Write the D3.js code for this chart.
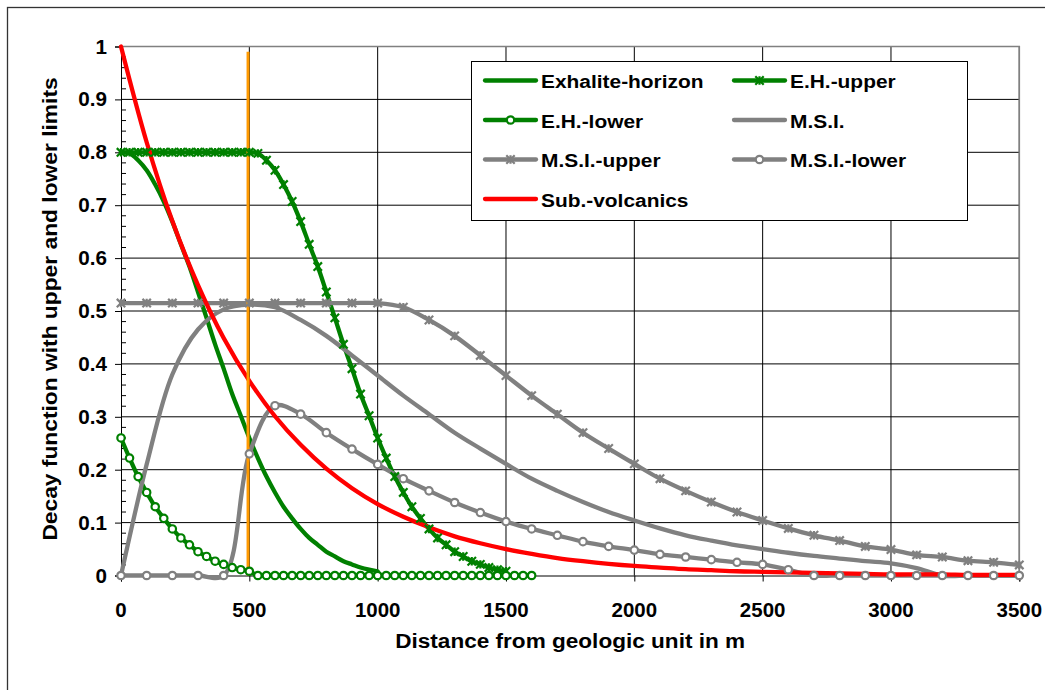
<!DOCTYPE html>
<html>
<head>
<meta charset="utf-8">
<script src="https://cdn.jsdelivr.net/npm/d3@7"></script>
<style>
  body { margin: 0; background: #fff; }
  svg { display: block; }
  text { font-family: "Liberation Sans", Arial, sans-serif; font-weight: bold; fill: #000; }
</style>
</head>
<body>
<svg id="chart" width="1045" height="690"></svg>
<script>
// Distances (m) for the finely sampled exhalite-horizon series
const distFine = [0, 33.3, 66.7, 100, 133.3, 166.7, 200, 233.3, 266.7, 300, 333.3, 366.7,
  400, 433.3, 466.7, 500, 533.3, 566.7, 600, 633.3, 666.7, 700, 733.3, 766.7, 800, 833.3,
  866.7, 900, 933.3, 966.7, 1000, 1033.3, 1066.7, 1100, 1133.3, 1166.7, 1200, 1233.3,
  1266.7, 1300, 1333.3, 1366.7, 1400, 1433.3, 1466.7, 1500, 1533.3, 1566.7, 1600];

// Distances (m) for the 100 m sampled series
const distCoarse = [0, 100, 200, 300, 400, 500, 600, 700, 800, 900, 1000, 1100, 1200, 1300,
  1400, 1500, 1600, 1700, 1800, 1900, 2000, 2100, 2200, 2300, 2400, 2500, 2600, 2700, 2800,
  2900, 3000, 3100, 3200, 3300, 3400, 3500];

const exhaliteHorizon = [0.800, 0.798, 0.785, 0.766, 0.739, 0.707, 0.669, 0.626, 0.584, 0.536,
  0.487, 0.437, 0.391, 0.343, 0.302, 0.260, 0.222, 0.187, 0.157, 0.130, 0.108, 0.088, 0.071,
  0.058, 0.045, 0.036, 0.027, 0.021, 0.015, 0.011, 0.008];

const ehUpper = [0.800, 0.800, 0.800, 0.800, 0.800, 0.800, 0.800, 0.800, 0.800, 0.800, 0.800,
  0.800, 0.800, 0.800, 0.800, 0.800, 0.798, 0.785, 0.766, 0.739, 0.707, 0.669, 0.626, 0.584,
  0.536, 0.487, 0.437, 0.391, 0.343, 0.302, 0.260, 0.222, 0.187, 0.157, 0.130, 0.108, 0.088,
  0.071, 0.058, 0.045, 0.036, 0.027, 0.021, 0.015, 0.011, 0.008];

const ehLower = [0.260, 0.222, 0.187, 0.157, 0.130, 0.108, 0.088, 0.071, 0.058, 0.045, 0.036,
  0.027, 0.021, 0.015, 0.011, 0.008, 0, 0, 0, 0, 0, 0, 0, 0, 0, 0, 0, 0, 0, 0, 0, 0, 0, 0, 0,
  0, 0, 0, 0, 0, 0, 0, 0, 0, 0, 0, 0, 0, 0];

const msi = [0, 0.210, 0.380, 0.465, 0.503, 0.512, 0.507, 0.483, 0.453, 0.416, 0.378, 0.340,
  0.305, 0.270, 0.240, 0.211, 0.183, 0.160, 0.139, 0.120, 0.104, 0.089, 0.076, 0.066, 0.057,
  0.050, 0.043, 0.037, 0.032, 0.027, 0.023, 0.014, 0, 0, 0, 0];

const msiUpper = [0.515, 0.515, 0.515, 0.515, 0.515, 0.515, 0.515, 0.515, 0.515, 0.515, 0.515,
  0.507, 0.483, 0.453, 0.416, 0.378, 0.340, 0.305, 0.270, 0.240, 0.211, 0.183, 0.160, 0.139,
  0.120, 0.104, 0.089, 0.076, 0.066, 0.055, 0.049, 0.039, 0.035, 0.028, 0.025, 0.020];

const msiLower = [0, 0, 0, 0, 0, 0.230, 0.321, 0.305, 0.270, 0.239, 0.210, 0.183, 0.160, 0.138,
  0.119, 0.102, 0.088, 0.076, 0.064, 0.055, 0.048, 0.040, 0.035, 0.030, 0.025, 0.021, 0.011,
  0, 0, 0, 0, 0, 0, 0, 0, 0];

const subVolcanics = [1.000, 0.819, 0.670, 0.549, 0.449, 0.368, 0.301, 0.247, 0.202, 0.165,
  0.135, 0.111, 0.091, 0.074, 0.061, 0.050, 0.041, 0.033, 0.027, 0.022, 0.018, 0.015, 0.012,
  0.010, 0.008, 0.007, 0.006, 0.005, 0.004, 0.003, 0.002, 0.002, 0.002, 0.001, 0.001, 0.001];

const xTicks = [0, 500, 1000, 1500, 2000, 2500, 3000, 3500];
const yTicks = [0, 0.1, 0.2, 0.3, 0.4, 0.5, 0.6, 0.7, 0.8, 0.9, 1];

// Reference distance marked by the vertical line
const cutoffDistance = 495;
const cutoffTop = 0.99;

const GREEN = "#008000", GRAY = "#808080", RED = "#FF0000", ORANGE = "#FF9A00";

const series = [
  { name: "Exhalite-horizon", xs: distFine,   ys: exhaliteHorizon, color: GREEN, marker: null },
  { name: "E.H.-upper",       xs: distFine,   ys: ehUpper,         color: GREEN, marker: "star" },
  { name: "E.H.-lower",       xs: distFine,   ys: ehLower,         color: GREEN, marker: "circle" },
  { name: "M.S.I.",           xs: distCoarse, ys: msi,             color: GRAY,  marker: null },
  { name: "M.S.I.-upper",     xs: distCoarse, ys: msiUpper,        color: GRAY,  marker: "star" },
  { name: "M.S.I.-lower",     xs: distCoarse, ys: msiLower,        color: GRAY,  marker: "circle" },
  { name: "Sub.-volcanics",   xs: distCoarse, ys: subVolcanics,    color: RED,   marker: null }
];
series.forEach(s => { s.points = s.ys.map((v, i) => [s.xs[i], v]); });

const svg = d3.select("#chart");
svg.append("rect").attr("width", 1045).attr("height", 690).attr("fill", "#fff");

// Chart frame
svg.append("rect")
  .attr("x", 7.5).attr("y", 7.5).attr("width", 1200).attr("height", 900)
  .attr("fill", "none").attr("stroke", "#333").attr("stroke-width", 1.3);

const x = d3.scaleLinear().domain([0, 3500]).range([121, 1019.3]);
const y = d3.scaleLinear().domain([0, 1]).range([575.5, 46.5]);

// Grid
const grid = svg.append("g").attr("stroke", "#000").attr("stroke-width", 1);
grid.selectAll("line.h").data(yTicks.filter(d => d > 0)).join("line")
  .attr("x1", x(0)).attr("x2", x(3500)).attr("y1", d => y(d)).attr("y2", d => y(d));
grid.selectAll("line.v").data(xTicks.filter(d => d > 0)).join("line")
  .attr("x1", d => x(d)).attr("x2", d => x(d)).attr("y1", y(0)).attr("y2", y(1));

// Plot area border (top and right)
svg.append("path")
  .attr("d", `M${x(0)},${y(1)}H${x(3500)}V${y(0)}`)
  .attr("fill", "none").attr("stroke", GRAY).attr("stroke-width", 1.6);

// Axes
const yAxis = d3.axisLeft(y).tickValues(yTicks).tickSize(6).tickFormat(() => "");
const gy = svg.append("g").attr("transform", `translate(${x(0)},0)`).call(yAxis);
gy.select(".domain").attr("stroke", "#000");
gy.selectAll(".tick line").attr("stroke", "#000");
const minor = d3.range(0, 51).map(i => i / 50).filter(v => Math.round(v * 50) % 5 !== 0);
gy.selectAll("line.minor").data(minor).join("line")
  .attr("class", "minor").attr("stroke", "#000")
  .attr("x1", 0).attr("x2", 5).attr("y1", d => y(d)).attr("y2", d => y(d));

const xAxis = d3.axisBottom(x).tickValues(xTicks).tickSize(6).tickFormat(() => "");
const gx = svg.append("g").attr("transform", `translate(0,${y(0)})`).call(xAxis);
gx.select(".domain").attr("stroke", "#000");
gx.selectAll(".tick line").attr("stroke", "#000");

// Text helper with slight horizontal stretch
function label(parent, str, px, py, size, anchor, sx, rot) {
  return parent.append("text")
    .attr("transform", `translate(${px},${py})${rot ? ` rotate(${rot})` : ""} scale(${sx},1)`)
    .attr("text-anchor", anchor)
    .style("font-size", size + "px")
    .text(str);
}

yTicks.forEach(v => label(svg, String(+v.toFixed(1)), 107, y(v) + 7, 19.5, "end", 1.06));
xTicks.forEach(v => label(svg, String(v), x(v), 617, 19.5, "middle", 1.05));
label(svg, "Distance from geologic unit in m", (x(0) + x(3500)) / 2, 648, 21, "middle", 1.075);
label(svg, "Decay function with upper and lower limits", 57, 309, 21, "middle", 1.085, -90);

// Series lines (smoothed)
const line = d3.line().x(d => x(d[0])).y(d => y(d[1])).curve(d3.curveCatmullRom.alpha(0.5));
const linesG = svg.append("g");
series.forEach(s => {
  linesG.append("path").attr("d", line(s.points))
    .attr("fill", "none").attr("stroke", s.color).attr("stroke-width", 4.3)
    .attr("stroke-linejoin", "round").attr("stroke-linecap", "round");
});

// Vertical reference line
svg.append("line")
  .attr("x1", x(cutoffDistance)).attr("x2", x(cutoffDistance))
  .attr("y1", y(0)).attr("y2", y(cutoffTop))
  .attr("stroke", ORANGE).attr("stroke-width", 3);

// Markers
const starPath = s => `M${-s},${-s}L${s},${s}M${-s},${s}L${s},${-s}M0,${-s}L0,${s}`;
function drawMarker(g, type, color, cx, cy) {
  if (type === "star") {
    g.append("path").attr("d", starPath(4.2))
      .attr("transform", `translate(${cx},${cy})`)
      .attr("fill", "none").attr("stroke", color).attr("stroke-width", 2.2);
  } else if (type === "circle") {
    g.append("circle").attr("cx", cx).attr("cy", cy).attr("r", 3.7)
      .attr("fill", "#fff").attr("stroke", color).attr("stroke-width", 2.2);
  }
}
const markersG = svg.append("g");
series.filter(s => s.marker).forEach(s => {
  s.points.forEach(p => drawMarker(markersG, s.marker, s.color, x(p[0]), y(p[1])));
});

// Legend
const legend = svg.append("g");
legend.append("rect").attr("x", 471.5).attr("y", 61.5).attr("width", 496).attr("height", 159)
  .attr("fill", "#fff").attr("stroke", "#000").attr("stroke-width", 1);
const colX = [485, 734], rowY = [80.5, 120, 159.5, 199];
series.forEach((s, i) => {
  const cx = colX[i % 2], cy = rowY[Math.floor(i / 2)];
  legend.append("line").attr("x1", cx).attr("x2", cx + 51).attr("y1", cy).attr("y2", cy)
    .attr("stroke", s.color).attr("stroke-width", 4.3).attr("stroke-linecap", "round");
  drawMarker(legend, s.marker, s.color, cx + 25.5, cy);
  label(legend, s.name, cx + 56, cy + 7.5, 19, "start", 1.1);
});
</script>
</body>
</html>
